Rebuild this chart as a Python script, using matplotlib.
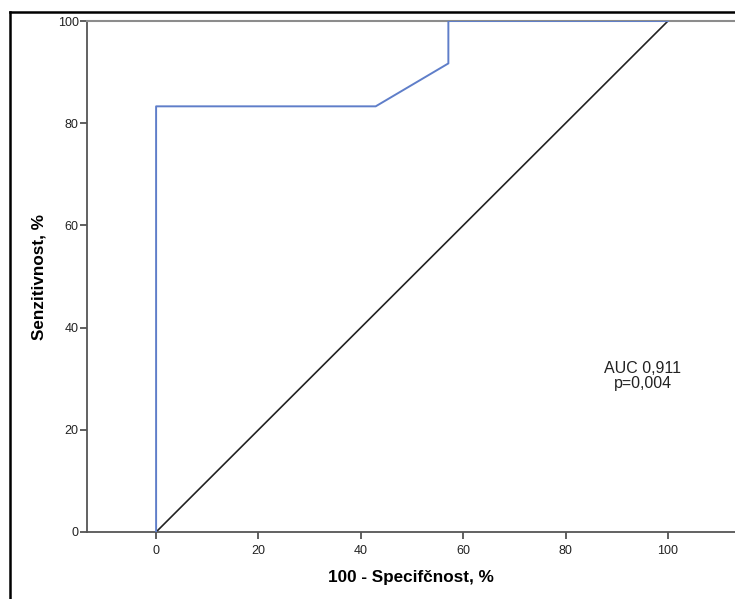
import matplotlib
matplotlib.use('Agg')
import matplotlib.pyplot as plt
from matplotlib.lines import Line2D

plt.rcParams['font.family'] = ['Liberation Sans', 'DejaVu Sans']

# ROC curve points (100 - specificity, sensitivity)
fpr = [0, 0, 42.9, 57.1, 57.1, 100]
tpr = [0, 83.3, 83.3, 91.7, 100, 100]
ref_line = [0, 100]
ticks = [0, 20, 40, 60, 80, 100]
auc_text = 'AUC 0,911\np=0,004'

fig = plt.figure(figsize=(7.35, 5.99), dpi=100)
ax = fig.add_axes([87 / 735, 67 / 599, 1 - 87 / 735, 511 / 599])

ax.plot(fpr, tpr, color='#5f7ec9', lw=1.4, zorder=3)
ax.plot(ref_line, ref_line, color='#222222', lw=1.2, zorder=2)

ax.set_xlim(-13.5, 113.1)
ax.set_ylim(0, 100)
ax.set_xticks(ticks)
ax.set_yticks(ticks)
ax.tick_params(direction='out', length=5, width=1.2, color='#444444',
               labelsize=9, labelcolor='#222222')
ax.tick_params(axis='x', pad=4)
ax.tick_params(axis='y', pad=1)

for side in ['left', 'bottom']:
    ax.spines[side].set_color('#555555')
    ax.spines[side].set_linewidth(1.3)
ax.spines['top'].set_color('#8c8c8c')
ax.spines['top'].set_linewidth(1.5)
ax.spines['right'].set_visible(False)

ax.set_xlabel('100 - Specifčnost, %', fontsize=12.3, fontweight='bold', labelpad=10)
ax.set_ylabel('Senzitivnost, %', fontsize=12.3, fontweight='bold', labelpad=8)

ax.text(95.1, 30.5, auc_text, ha='center', va='center', fontsize=11.5,
        linespacing=0.95, color='#222222')

# outer frame (cropped at right and bottom)
fig.add_artist(Line2D([9.5 / 735, 9.5 / 735], [0, 1 - 12 / 599],
                      transform=fig.transFigure, color='black', lw=1.8))
fig.add_artist(Line2D([9.5 / 735, 1], [1 - 12 / 599, 1 - 12 / 599],
                      transform=fig.transFigure, color='black', lw=1.8))

fig.savefig('out.png', dpi=100)
